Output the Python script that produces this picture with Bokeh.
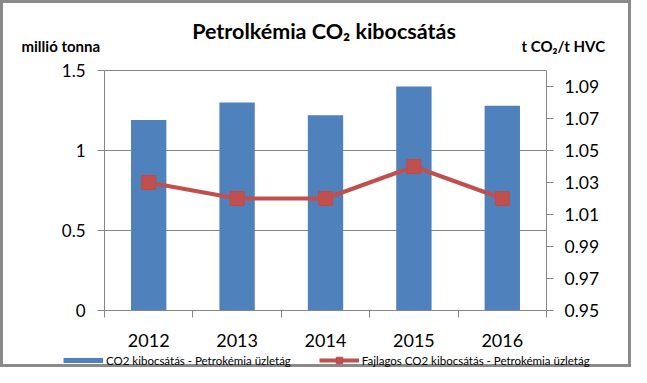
from bokeh.plotting import figure
from bokeh.models import (Range1d, LinearAxis, FixedTicker, Legend, LegendItem,
                          Label, InlineStyleSheet)
from bokeh.embed import file_html
from bokeh.resources import INLINE

# ---- data ----
years = ["2012", "2013", "2014", "2015", "2016"]
co2_mt = [1.19, 1.30, 1.22, 1.40, 1.28]            # millió tonna (left axis)
specific = [1.03, 1.02, 1.02, 1.04, 1.02]          # t CO2 / t HVC (right axis)
left_ticks = [0, 0.5, 1, 1.5]
left_tick_labels = ["0", "0.5", "1", "1.5"]
right_ticks = [0.95, 0.97, 0.99, 1.01, 1.03, 1.05, 1.07, 1.09]
right_tick_labels = ["0.95", "0.97", "0.99", "1.01", "1.03", "1.05", "1.07", "1.09"]
left_axis_range = (0, 1.5)
right_axis_range = (0.95, 1.10)
bar_label = "CO2 kibocsátás - Petrokémia üzletág"
line_label = "Fajlagos CO2 kibocsátás - Petrokémia üzletág"

BLUE = "#4F81BD"
RED = "#C0504D"
GRAY = "#868686"
FONT = "Lato"

# ---- layout (pixels) : the plot frame covers the whole canvas, axes are pinned ----
W, H = 631, 367
PL, PR, PT, PB = 104, 546, 70, 310
n = len(years)
ux = (PR - PL) / n
uy = (PB - PT) / (left_axis_range[1] - left_axis_range[0])
ur = (PB - PT) / (right_axis_range[1] - right_axis_range[0])

def dx(px):
    return (px - PL) / ux

def dy(py):
    return left_axis_range[0] + (PB - py) / uy

xs = [i + 0.5 for i in range(n)]

p = figure(width=W, height=H, output_backend="svg", toolbar_location=None,
           x_range=Range1d(dx(0), dx(W)), y_range=Range1d(dy(H), dy(0)),
           min_border=0, min_border_left=0, min_border_right=0,
           min_border_top=0, min_border_bottom=0)
p.extra_y_ranges = {"right": Range1d(right_axis_range[0] - (H - PB) / ur,
                                     right_axis_range[1] + PT / ur)}
p.outline_line_color = None
p.border_fill_color = None
p.background_fill_color = None
p.stylesheets = [InlineStyleSheet(css=":host { box-shadow: inset 0 0 0 3px #8a8a8a; background: white; }")]
p.xgrid.visible = False
p.ygrid.visible = False

# horizontal gridlines (behind the bars)
grid_vals = left_ticks[1:]
p.segment(x0=[0] * len(grid_vals), x1=[n] * len(grid_vals), y0=grid_vals, y1=grid_vals,
          line_color=GRAY, line_width=1, level="underlay")

# bars
p.vbar(x=xs, top=co2_mt, width=0.4, fill_color=BLUE, line_color=None)

# line + markers on the right axis
lr = p.line(x=xs, y=specific, y_range_name="right", line_color=RED, line_width=4)
sr = p.scatter(x=xs, y=specific, y_range_name="right", marker="square", size=14,
               fill_color=RED, line_color="#BE4B48")
# legend proxy for the bar series (thin bar swatch; a one-point line draws nothing)
br = p.line(x=xs[:1], y=co2_mt[:1], line_color=BLUE, line_width=5)

# left axis
ya = p.yaxis[0]
ya.fixed_location = 0
ya.bounds = left_axis_range
ya.ticker = FixedTicker(ticks=left_ticks)
ya.major_label_overrides = {t: s for t, s in zip(left_ticks, left_tick_labels)}
ya.major_tick_in = 0
ya.major_tick_out = 7
ya.minor_tick_line_color = None
ya.axis_line_color = GRAY
ya.major_tick_line_color = GRAY
ya.major_label_text_font = FONT
ya.major_label_text_font_size = "17px"
ya.major_label_text_color = "black"
ya.major_label_standoff = 12

# right axis
ra = LinearAxis(y_range_name="right", ticker=FixedTicker(ticks=right_ticks))
ra.fixed_location = n
ra.bounds = right_axis_range
ra.major_label_overrides = {t: s for t, s in zip(right_ticks, right_tick_labels)}
ra.major_tick_in = 0
ra.major_tick_out = 7
ra.minor_tick_line_color = None
ra.axis_line_color = GRAY
ra.major_tick_line_color = GRAY
ra.major_label_text_font = FONT
ra.major_label_text_font_size = "17.5px"
ra.major_label_text_color = "black"
ra.major_label_standoff = 11
p.add_layout(ra, "right")

# x axis: labels at centres, tick marks at category boundaries
xa = p.xaxis[0]
xa.fixed_location = left_axis_range[0]
xa.bounds = (0, n)
xa.ticker = FixedTicker(ticks=xs, minor_ticks=list(range(n + 1)))
xa.major_label_overrides = {x: y for x, y in zip(xs, years)}
xa.major_tick_line_color = None
xa.minor_tick_line_color = GRAY
xa.minor_tick_in = 0
xa.minor_tick_out = 7
xa.axis_line_color = GRAY
xa.major_label_text_font = FONT
xa.major_label_text_font_size = "18px"
xa.major_label_text_color = "black"
xa.major_label_standoff = 16

# texts
p.add_layout(Label(x=dx(323.5), y=dy(30.5), text="Petrolkémia CO₂ kibocsátás",
                   text_align="center", text_baseline="alphabetic", text_font=FONT,
                   text_font_size="21.5px", text_font_style="bold", text_color="black"))
p.add_layout(Label(x=dx(21), y=dy(45), text="millió tonna", text_align="left",
                   text_baseline="alphabetic", text_font=FONT, text_font_size="15px",
                   text_font_style="bold", text_color="black"))
p.add_layout(Label(x=dx(521), y=dy(45), text="t CO₂/t HVC", text_align="left",
                   text_baseline="alphabetic", text_font=FONT, text_font_size="15px",
                   text_font_style="bold", text_color="black"))

legend = Legend(items=[LegendItem(label=bar_label, renderers=[br]),
                       LegendItem(label=line_label, renderers=[lr, sr])],
                orientation="horizontal", location=(63, -1),
                label_text_font=FONT, label_text_font_size="11.5px", label_text_color="black",
                glyph_width=40, glyph_height=16, label_height=16, label_standoff=3, spacing=28,
                padding=0, margin=0, border_line_color=None, background_fill_color=None)
p.add_layout(legend, "center")

open("out.html", "w").write(file_html(p, INLINE))
